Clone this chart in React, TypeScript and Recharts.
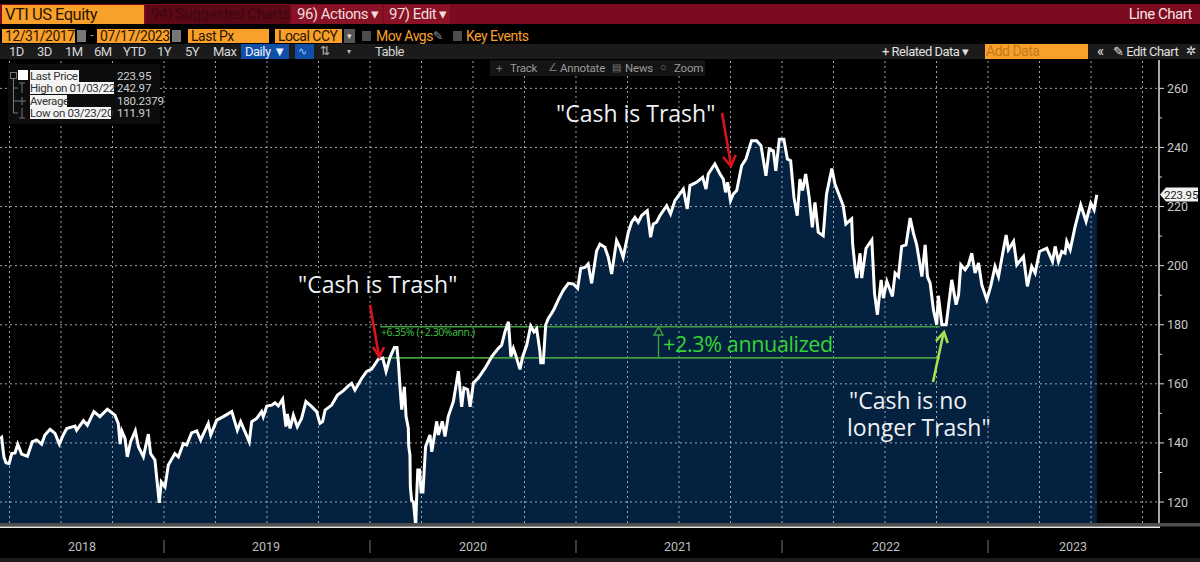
import { Area, ComposedChart, Line, ReferenceLine, XAxis, YAxis } from "recharts";

// decimal year / last price
const dates2018 = [2018.204, 2018.212, 2018.223, 2018.233, 2018.248, 2018.261, 2018.277, 2018.29, 2018.309, 2018.337, 2018.361, 2018.382, 2018.406, 2018.422, 2018.447, 2018.471, 2018.492, 2018.511, 2018.528, 2018.568, 2018.576, 2018.609, 2018.628, 2018.66, 2018.689, 2018.725, 2018.762, 2018.778, 2018.787, 2018.795, 2018.811, 2018.822, 2018.838, 2018.861, 2018.876, 2018.9, 2018.924, 2018.935, 2018.956, 2018.977, 2018.987];
const prices2018 = [141.5, 141.9, 135.3, 133.3, 133.0, 136.4, 136.6, 139.6, 136.2, 135.5, 140.4, 141.0, 139.6, 142.7, 144.6, 143.2, 139.6, 142.7, 144.9, 145.7, 144.3, 147.5, 146.0, 150.6, 148.9, 151.4, 149.4, 146.6, 139.6, 144.1, 141.5, 135.3, 140.4, 144.1, 138.7, 135.3, 143.0, 136.4, 134.2, 119.7, 126.8];

const dates2019 = [2019.005, 2019.021, 2019.053, 2019.07, 2019.094, 2019.11, 2019.134, 2019.159, 2019.178, 2019.215, 2019.227, 2019.256, 2019.288, 2019.329, 2019.356, 2019.372, 2019.393, 2019.414, 2019.426, 2019.45, 2019.474, 2019.482, 2019.499, 2019.523, 2019.539, 2019.555, 2019.576, 2019.592, 2019.599, 2019.612, 2019.628, 2019.647, 2019.668, 2019.689, 2019.717, 2019.741, 2019.757, 2019.77, 2019.782, 2019.814, 2019.842, 2019.871, 2019.895, 2019.911, 2019.927, 2019.96, 2019.984];
const prices2019 = [125.1, 132.5, 136.4, 135.3, 139.8, 139.3, 143.4, 144.1, 141.0, 146.6, 142.7, 147.7, 148.9, 150.6, 144.3, 147.2, 143.8, 140.4, 147.2, 148.3, 150.6, 148.9, 152.5, 152.8, 153.6, 152.5, 154.8, 145.5, 149.8, 144.9, 149.4, 145.5, 148.3, 154.0, 152.3, 150.6, 146.6, 147.2, 151.1, 152.8, 156.2, 157.7, 159.3, 160.2, 157.9, 161.9, 164.2];

const dates2020 = [2020.008, 2020.041, 2020.062, 2020.078, 2020.097, 2020.118, 2020.131, 2020.138, 2020.146, 2020.154, 2020.167, 2020.175, 2020.186, 2020.188, 2020.194, 2020.196, 2020.202, 2020.211, 2020.222, 2020.227, 2020.232, 2020.241, 2020.248, 2020.257, 2020.27, 2020.291, 2020.3, 2020.324, 2020.332, 2020.351, 2020.364, 2020.38, 2020.405, 2020.429, 2020.445, 2020.456, 2020.474, 2020.486, 2020.502, 2020.526, 2020.558, 2020.591, 2020.623, 2020.639, 2020.655, 2020.672, 2020.684, 2020.696, 2020.707, 2020.728, 2020.741, 2020.761, 2020.78, 2020.796, 2020.809, 2020.825, 2020.829, 2020.841, 2020.853, 2020.866, 2020.882, 2020.895, 2020.914, 2020.939, 2020.963, 2020.987];
const prices2020 = [165.0, 168.4, 168.7, 164.2, 168.9, 172.3, 172.3, 167.2, 158.6, 151.3, 159.0, 149.0, 145.0, 138.8, 135.9, 125.1, 120.6, 120.0, 111.91, 122.8, 130.8, 130.8, 123.4, 123.4, 138.8, 142.7, 137.0, 147.3, 142.7, 147.3, 142.2, 149.0, 154.1, 164.3, 152.2, 158.6, 158.1, 152.2, 160.3, 162.0, 165.2, 169.2, 172.0, 173.1, 177.6, 181.0, 169.2, 172.0, 169.8, 164.9, 169.2, 173.1, 179.6, 177.6, 178.7, 170.9, 167.1, 167.1, 180.0, 182.2, 183.9, 185.5, 188.4, 191.7, 194.0, 193.8];

const dates2021 = [2021.008, 2021.023, 2021.043, 2021.059, 2021.076, 2021.1, 2021.116, 2021.14, 2021.157, 2021.173, 2021.197, 2021.213, 2021.229, 2021.254, 2021.27, 2021.286, 2021.302, 2021.318, 2021.346, 2021.362, 2021.375, 2021.391, 2021.407, 2021.44, 2021.459, 2021.48, 2021.521, 2021.54, 2021.553, 2021.585, 2021.615, 2021.631, 2021.642, 2021.674, 2021.699, 2021.715, 2021.726, 2021.736, 2021.75, 2021.763, 2021.78, 2021.804, 2021.825, 2021.852, 2021.877, 2021.898, 2021.922, 2021.938, 2021.958, 2021.97, 2021.987];
const prices2021 = [192.3, 199.1, 199.4, 200.6, 194.0, 205.0, 207.3, 206.2, 202.8, 197.2, 208.5, 206.2, 202.8, 211.3, 214.7, 216.3, 214.7, 216.9, 218.6, 209.6, 214.1, 214.7, 216.9, 220.3, 217.5, 222.0, 225.9, 219.2, 227.1, 228.2, 229.9, 225.9, 231.0, 234.4, 231.0, 229.3, 224.8, 228.2, 222.0, 224.2, 225.4, 233.8, 236.1, 242.3, 242.3, 240.6, 230.4, 239.5, 238.9, 232.1, 242.8];

const dates2022 = [2022.009, 2022.026, 2022.042, 2022.058, 2022.074, 2022.087, 2022.1, 2022.115, 2022.132, 2022.147, 2022.16, 2022.176, 2022.2, 2022.216, 2022.242, 2022.257, 2022.297, 2022.31, 2022.338, 2022.343, 2022.355, 2022.363, 2022.379, 2022.387, 2022.408, 2022.436, 2022.449, 2022.463, 2022.481, 2022.492, 2022.509, 2022.536, 2022.549, 2022.565, 2022.581, 2022.602, 2022.622, 2022.638, 2022.654, 2022.679, 2022.695, 2022.706, 2022.719, 2022.735, 2022.751, 2022.759, 2022.776, 2022.797, 2022.808, 2022.824, 2022.845, 2022.857, 2022.868, 2022.889, 2022.905, 2022.921, 2022.937, 2022.954, 2022.97, 2022.994];
const prices2022 = [242.8, 236.1, 235.5, 223.1, 216.9, 229.3, 225.4, 231.0, 223.1, 213.0, 221.4, 211.3, 210.1, 224.2, 232.9, 227.6, 220.3, 214.1, 215.8, 207.3, 199.2, 195.8, 204.2, 195.8, 205.9, 208.7, 190.7, 183.4, 195.2, 189.0, 194.7, 189.6, 197.5, 196.3, 206.5, 207.0, 216.1, 211.0, 207.0, 196.3, 207.0, 196.3, 194.1, 185.1, 180.0, 189.8, 180.0, 180.0, 186.2, 195.2, 186.8, 190.1, 200.3, 198.6, 200.3, 204.2, 197.5, 200.9, 193.5, 188.5];

const dates2023 = [2023.013, 2023.034, 2023.051, 2023.067, 2023.088, 2023.099, 2023.124, 2023.14, 2023.172, 2023.191, 2023.212, 2023.229, 2023.25, 2023.285, 2023.313, 2023.326, 2023.342, 2023.358, 2023.374, 2023.382, 2023.399, 2023.423, 2023.45, 2023.476, 2023.499, 2023.515, 2023.528];
const prices2023 = [193.0, 199.7, 196.3, 202.5, 210.4, 205.4, 208.2, 200.3, 203.1, 193.0, 199.7, 197.5, 204.8, 205.9, 201.4, 206.5, 201.4, 204.8, 204.2, 208.2, 205.4, 213.3, 220.6, 215.0, 221.1, 218.9, 223.95];

const allDates = [...dates2018, ...dates2019, ...dates2020, ...dates2021, ...dates2022, ...dates2023];
const allPrices = [...prices2018, ...prices2019, ...prices2020, ...prices2021, ...prices2022, ...prices2023];
const chartData = allDates.map((date, i) => ({ date, price: allPrices[i] }));

const X_DOMAIN = [2018.204, 2023.83];
const Y_DOMAIN = [112.9, 269.6];
const priceLabels = [120, 140, 160, 180, 200, 220, 240, 260];
const priceMinorTicks = [130, 150, 170, 190, 210, 230, 250];
const quarters = [2018.25, 2018.5, 2018.75, 2019, 2019.25, 2019.5, 2019.75, 2020, 2020.25, 2020.5, 2020.75, 2021, 2021.25, 2021.5, 2021.75, 2022, 2022.25, 2022.5, 2022.75, 2023, 2023.25, 2023.5, 2023.75];
const months = [2018.25, 2018.333, 2018.417, 2018.5, 2018.583, 2018.667, 2018.75, 2018.833, 2018.917, 2019, 2019.083, 2019.167, 2019.25, 2019.333, 2019.417, 2019.5, 2019.583, 2019.667, 2019.75, 2019.833, 2019.917, 2020, 2020.083, 2020.167, 2020.25, 2020.333, 2020.417, 2020.5, 2020.583, 2020.667, 2020.75, 2020.833, 2020.917, 2021, 2021.083, 2021.167, 2021.25, 2021.333, 2021.417, 2021.5, 2021.583, 2021.667, 2021.75, 2021.833, 2021.917, 2022, 2022.083, 2022.167, 2022.25, 2022.333, 2022.417, 2022.5, 2022.583, 2022.667, 2022.75, 2022.833, 2022.917, 2023, 2023.083, 2023.167, 2023.25, 2023.333, 2023.417, 2023.5, 2023.583, 2023.667, 2023.75];
const yearBoundaries = [2019, 2020, 2021, 2022, 2023];
const yearLabelTicks = [2018.602, 2019.495, 2020.5, 2021.495, 2022.505, 2023.413];

const START_LEVEL = 168.8;
const END_LEVEL = 179.3;
const SPAN_FROM = 2020.049;
const SPAN_TO = 2022.767;

const UI_FONT = "Roboto, sans-serif";
const NOTE_FONT = '"Open Sans", sans-serif';
const ORANGE = "#f9a02b";
const RED = "#7d0b1f";
const GRID = { stroke: "#c4cbd2", strokeOpacity: 0.8, strokeWidth: 1, strokeDasharray: "2 3" };

function PriceTick({ x, y, payload }: any) {
  const major = priceLabels.includes(payload.value);
  return (
    <g>
      <line x1={x} x2={x + (major ? 5 : 3)} y1={y} y2={y} stroke="#d8d8d8" />
      {major && (
        <text x={x + 8} y={y + 4.5} fill="#c9c9c9" fontSize={12.5} fontFamily={UI_FONT}>
          {payload.value}
        </text>
      )}
    </g>
  );
}

function YearTick({ x, payload }: any) {
  if (yearBoundaries.includes(payload.value)) {
    return <line x1={x} x2={x} y1={540} y2={553} stroke="#777" />;
  }
  return (
    <text x={x} y={551} textAnchor="middle" fill="#bdbdbd" fontSize={12.5} fontFamily={UI_FONT}>
      {Math.floor(payload.value)}
    </text>
  );
}

function Box({ x, y, w, h, bg, color, size = 14, pad = 3, ls = -0.5, align, children }: any) {
  return (
    <div
      style={{
        position: "absolute",
        left: x,
        top: y,
        width: w,
        height: h,
        background: bg,
        color,
        fontSize: size,
        letterSpacing: ls,
        lineHeight: `${h}px`,
        paddingLeft: pad,
        boxSizing: "border-box",
        whiteSpace: "nowrap",
        textAlign: align,
      }}
    >
      {children}
    </div>
  );
}

function Toolbar() {
  const ranges: [string, number][] = [["1D", 9], ["3D", 37], ["1M", 65], ["6M", 94], ["YTD", 123], ["1Y", 157], ["5Y", 185], ["Max", 213]];
  return (
    <div style={{ position: "absolute", left: 0, top: 0, width: 1200, height: 80, fontFamily: UI_FONT }}>
      <Box x={0} y={4} w={1200} h={20} bg={RED} />
      <Box x={2} y={5} w={142} h={19} bg={ORANGE} color="#2b1600" size={16.5}>VTI US Equity</Box>
      <Box x={146} y={5} w={144} h={19} bg="#5c0815" color="#3c0710" size={15} pad={5} ls={-0.3}>94) Suggested Charts</Box>
      <Box x={292} y={5} w={90} h={19} bg="#8a1226" color="#f0dcdc" size={15} pad={5}>96) Actions ▾</Box>
      <Box x={384} y={5} w={66} h={19} bg="#8a1226" color="#f0dcdc" size={15} pad={5}>97) Edit ▾</Box>
      <Box x={1100} y={5} w={92} h={19} color="#f4e4e4" size={15} align="right" pad={0}>Line Chart</Box>

      <Box x={2} y={29} w={73} h={14} bg={ORANGE} color="#2b1600" size={14}>12/31/2017</Box>
      <Box x={77} y={30} w={9} h={12} bg="#777" />
      <Box x={90} y={28} w={6} h={14} color="#999" size={13} pad={0}>-</Box>
      <Box x={97} y={29} w={73} h={14} bg={ORANGE} color="#2b1600" size={14}>07/17/2023</Box>
      <Box x={172} y={30} w={9} h={12} bg="#777" />
      <Box x={188} y={29} w={81} h={14} bg={ORANGE} color="#2b1600" size={14}>Last Px</Box>
      <Box x={275} y={29} w={67} h={14} bg={ORANGE} color="#2b1600" size={14}>Local CCY</Box>
      <Box x={344} y={29} w={11} h={14} bg="#555" color="#ddd" size={9} pad={3}>▾</Box>
      <Box x={362} y={31} w={9} h={10} bg="#4d4d4d" />
      <Box x={376} y={28} w={56} h={16} color={ORANGE} size={14} pad={0}>Mov Avgs</Box>
      <Box x={433} y={28} w={12} h={16} color="#999" size={12} pad={0}>✎</Box>
      <Box x={453} y={31} w={9} h={10} bg="#4d4d4d" />
      <Box x={466} y={28} w={70} h={16} color={ORANGE} size={14} pad={0}>Key Events</Box>

      <Box x={0} y={44} w={1200} h={15} bg="#1b1b1b" />
      {ranges.map(([label, left]) => (
        <Box key={label} x={left} y={44} w={28} h={15} color="#d6d6d6" size={13} pad={0}>{label}</Box>
      ))}
      <Box x={241} y={44} w={48} h={15} bg="#0f4fa8" color="#e8f0ff" size={13} pad={4}>Daily ▼</Box>
      <Box x={295} y={44} w={19} h={15} bg="#0f4fa8" color="#9cc4ff" size={11} pad={3}>∿</Box>
      <Box x={318} y={44} w={16} h={15} color="#bbb" size={12} pad={2}>⇅</Box>
      <Box x={347} y={44} w={10} h={15} color="#bbb" size={8} pad={0}>▾</Box>
      <Box x={375} y={44} w={34} h={15} color="#d6d6d6" size={13} pad={0}>Table</Box>
      <Box x={882} y={44} w={96} h={15} color="#e0e0e0" size={13} pad={0}>+ Related Data ▾</Box>
      <Box x={985} y={44} w={103} h={15} bg={ORANGE} color="#c07a1a" size={14} pad={1}>Add Data</Box>
      <Box x={1097} y={44} w={12} h={15} color="#e0e0e0" size={15} pad={0}>«</Box>
      <Box x={1113} y={44} w={66} h={15} color="#e0e0e0" size={13} pad={0}>✎ Edit Chart</Box>
      <Box x={1186} y={44} w={12} h={15} color="#e0e0e0" size={12} pad={0}>✲</Box>

      <Box x={490} y={60} w={215} h={16} bg="#141414" />
      <Box x={496} y={60} w={10} h={16} color="#777" size={11.5} pad={0}>+</Box>
      <Box x={510} y={60} w={32} h={16} color="#9a9a9a" size={11.5} pad={0} ls={-0.2}>Track</Box>
      <Box x={548} y={60} w={10} h={16} color="#777" size={11} pad={0}>∠</Box>
      <Box x={560} y={60} w={46} h={16} color="#9a9a9a" size={11.5} pad={0} ls={-0.2}>Annotate</Box>
      <Box x={612} y={60} w={10} h={16} color="#777" size={10} pad={0}>▤</Box>
      <Box x={625} y={60} w={32} h={16} color="#9a9a9a" size={11.5} pad={0} ls={-0.2}>News</Box>
      <Box x={660} y={60} w={10} h={16} color="#777" size={11} pad={0}>○</Box>
      <Box x={674} y={60} w={30} h={16} color="#9a9a9a" size={11.5} pad={0} ls={-0.2}>Zoom</Box>
    </div>
  );
}

function StatsLegend() {
  const rows = [
    { label: "Last Price", value: "223.95", top: 70, width: 49 },
    { label: "High on 01/03/22", value: "242.97", top: 82, width: 84 },
    { label: "Average", value: "180.2379", top: 95, width: 37 },
    { label: "Low on 03/23/20", value: "111.91", top: 107, width: 81 },
  ];
  return (
    <div style={{ position: "absolute", left: 8, top: 64, width: 152, height: 60, background: "#0d0d0d", fontFamily: UI_FONT }}>
      <svg width={22} height={60} style={{ position: "absolute", left: 0, top: 0 }} stroke="#777" fill="none">
        <rect x={2.5} y={8.5} width={6} height={6} />
        <path d="M5.5 15 V49 M5.5 24 H10 M5.5 37 H10 M5.5 49 H10" />
        <path d="M11 19 H17 M14 19 V29 M10 37 H18 M14 33 V41 M14 44 V54 M11 54 H17" />
      </svg>
      <Box x={10} y={6} w={10} h={10} bg="#fff" />
      {rows.map((row) => (
        <div key={row.label}>
          <Box x={22} y={row.top - 64} w={row.width} h={12} bg="#f4f4f4" color="#333" size={11.5} pad={0} ls={-0.35}>{row.label}</Box>
          <Box x={109} y={row.top - 64} w={43} h={12} color="#d0d0d0" size={11.5} pad={0} ls={-0.2}>{row.value}</Box>
        </div>
      ))}
    </div>
  );
}

function Annotations() {
  return (
    <svg width={1200} height={562} style={{ position: "absolute", left: 0, top: 0 }}>
      <g fontFamily={NOTE_FONT} fontSize={23} fill="#eef1f4">
        <text x={298} y={293}>"Cash is Trash"</text>
        <text x={556} y={122}>"Cash is Trash"</text>
        <text x={849} y={409}>"Cash is no</text>
        <text x={847} y={436}>longer Trash"</text>
      </g>
      <text x={381} y={336} fontFamily={NOTE_FONT} fontSize={10.5} letterSpacing={-0.4} fill="#3fc43f">+6.35% (+2.30%ann.)</text>
      <text x={663} y={352} fontFamily={NOTE_FONT} fontSize={21.5} letterSpacing={-0.35} fill="#35d535">+2.3% annualized</text>

      <g stroke="#3f9f3f" strokeWidth={1.4} fill="none">
        <line x1={658.5} x2={658.5} y1={357} y2={335} />
        <path d="M654 335 L658.5 327 L663 335 Z" />
      </g>

      <g stroke="#d9141c" strokeWidth={2.6} fill="none">
        <line x1={370} y1={305} x2={379} y2={356} />
        <path d="M373 347 L379.3 357 L384 347" />
        <line x1={722} y1={113} x2={731} y2={165} />
        <path d="M723 157 L731 166 L735.7 155" />
      </g>
      <g stroke="#a8e050" strokeWidth={2.6} fill="none">
        <line x1={933} y1={382} x2={943.5} y2={333} />
        <path d="M936 341 L944 332 L947.7 343" />
      </g>

      <rect x={0} y={523} width={1200} height={3.5} fill="#4e4e4e" />
      <rect x={0} y={526.5} width={1160} height={1.5} fill="#ececec" />
      <rect x={0} y={558} width={1200} height={4} fill="#1c1c1c" />

      <path d="M1160 194.5 L1166 187.5 H1198 V201.5 H1166 Z" fill="#f2f2f2" />
      <text x={1164} y={198.5} fontFamily={UI_FONT} fontSize={11.5} letterSpacing={-0.2} fill="#222">223.95</text>
    </svg>
  );
}

export default function App() {
  return (
    <div style={{ position: "absolute", left: 0, top: 0, width: 1200, height: 562, background: "#000", overflow: "hidden" }}>
      <ComposedChart width={1200} height={562} data={chartData} margin={{ top: 60, right: 0, bottom: 0, left: 0 }}>
        <XAxis
          xAxisId="main"
          dataKey="date"
          type="number"
          domain={X_DOMAIN}
          allowDataOverflow
          ticks={months}
          interval={0}
          height={20}
          tick={false}
          tickSize={7}
          tickLine={{ stroke: "#d8d8d8" }}
          axisLine={false}
        />
        <XAxis
          xAxisId="years"
          dataKey="date"
          type="number"
          domain={X_DOMAIN}
          allowDataOverflow
          ticks={[...yearLabelTicks, ...yearBoundaries]}
          interval={0}
          height={19}
          tick={<YearTick />}
          tickLine={false}
          axisLine={false}
        />
        <YAxis
          yAxisId="price"
          orientation="right"
          width={41}
          type="number"
          domain={Y_DOMAIN}
          allowDataOverflow
          ticks={[...priceLabels, ...priceMinorTicks]}
          interval={0}
          tick={<PriceTick />}
          tickSize={0}
          tickMargin={0}
          tickLine={false}
          axisLine={{ stroke: "#e0e0e0", strokeWidth: 1.5 }}
        />
        <Area
          xAxisId="main"
          yAxisId="price"
          dataKey="price"
          type="linear"
          fill="#04213f"
          fillOpacity={1}
          stroke="none"
          dot={false}
          isAnimationActive={false}
        />
        {priceLabels.map((level) => (
          <ReferenceLine
            key={level}
            xAxisId="main"
            yAxisId="price"
            segment={[{ x: X_DOMAIN[0], y: level }, { x: X_DOMAIN[1], y: level }]}
            {...GRID}
          />
        ))}
        {quarters.map((quarter) => (
          <ReferenceLine
            key={quarter}
            xAxisId="main"
            yAxisId="price"
            segment={[{ x: quarter, y: Y_DOMAIN[0] }, { x: quarter, y: Y_DOMAIN[1] }]}
            {...GRID}
          />
        ))}
        <ReferenceLine
          xAxisId="main"
          yAxisId="price"
          segment={[{ x: SPAN_FROM, y: END_LEVEL }, { x: SPAN_TO, y: END_LEVEL }]}
          stroke="#3f9f3f"
          strokeWidth={1.6}
        />
        <ReferenceLine
          xAxisId="main"
          yAxisId="price"
          segment={[{ x: SPAN_FROM, y: START_LEVEL }, { x: SPAN_TO, y: START_LEVEL }]}
          stroke="#3f9f3f"
          strokeWidth={1.6}
        />
        <Line
          xAxisId="main"
          yAxisId="price"
          dataKey="price"
          type="linear"
          stroke="#ffffff"
          strokeWidth={3}
          dot={false}
          isAnimationActive={false}
        />
      </ComposedChart>
      <Annotations />
      <Toolbar />
      <StatsLegend />
    </div>
  );
}
